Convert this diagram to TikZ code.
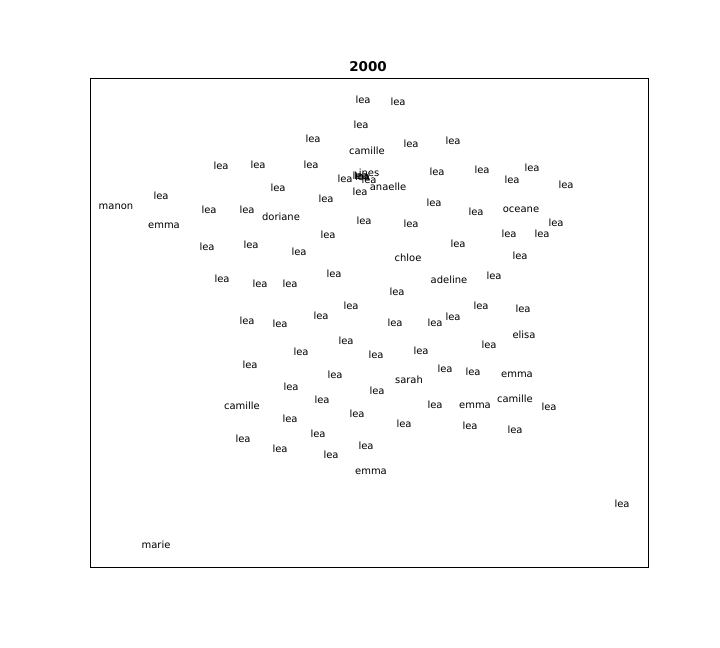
\documentclass[tikz,border=0pt]{standalone}
\usepackage{fontspec}
\setmainfont{DejaVu Sans}
\begin{document}
\begin{tikzpicture}[x=1bp,y=-1bp,
  lbl/.style={font=\fontsize{10}{12}\selectfont, inner sep=0pt, text height=7.6bp, text depth=0pt, anchor=center, text=black},
  ttl/.style={font=\fontsize{13.5}{15}\selectfont\bfseries, inner sep=0pt, anchor=center},
  frame/.style={draw=black, line width=0.8bp}]
\useasboundingbox (0,0) rectangle (720,648);
\node[ttl] (title) at (368,67) {2000};
\draw[frame] (90,78) rectangle (648,567);
\foreach \px/\py/\t [count=\i] in {
 363/100/lea, 398/102/lea, 361/125/lea, 313/139/lea, 367/151/camille,
 411/144/lea, 453/141/lea, 221/166/lea, 258/165/lea, 311/165/lea,
 345/179/lea, 360/176/lea, 361.5/175.5/lea, 362.5/176.5/lea, 369/173/ines,
 369/180/lea, 388/187/anaelle, 360/192/lea, 437/172/lea, 482/170/lea,
 532/168/lea, 512/180/lea, 566/185/lea, 161/196/lea, 116/206/manon,
 278/188/lea, 326/199/lea, 209/210/lea, 247/210/lea, 281/217/doriane,
 164/225/emma, 434/203/lea, 476/212/lea, 521/209/oceane, 556/223/lea,
 364/221/lea, 411/224/lea, 328/235/lea, 509/234/lea, 542/234/lea,
 207/247/lea, 251/245/lea, 299/252/lea, 458/244/lea, 408/258/chloe,
 520/256/lea, 222/279/lea, 260/284/lea, 290/284/lea, 334/274/lea,
 449/280/adeline, 494/276/lea, 397/292/lea, 351/306/lea, 481/306/lea,
 523/309/lea, 247/321/lea, 280/324/lea, 321/316/lea, 395/323/lea,
 435/323/lea, 453/317/lea, 524/335/elisa, 346/341/lea, 376/355/lea,
 421/351/lea, 489/345/lea, 301/352/lea, 250/365/lea, 445/369/lea,
 473/372/lea, 517/374/emma, 335/375/lea, 409/380/sarah, 291/387/lea,
 377/391/lea, 242/406/camille, 322/400/lea, 357/414/lea, 435/405/lea,
 475/405/emma, 515/399/camille, 549/407/lea, 290/419/lea, 404/424/lea,
 470/426/lea, 515/430/lea, 243/439/lea, 318/434/lea, 280/449/lea,
 331/455/lea, 366/446/lea, 371/471/emma, 622/504/lea, 156/545/marie}
  \node[lbl] (n\i) at (\px,\py) {\t};
\end{tikzpicture}
\end{document}
